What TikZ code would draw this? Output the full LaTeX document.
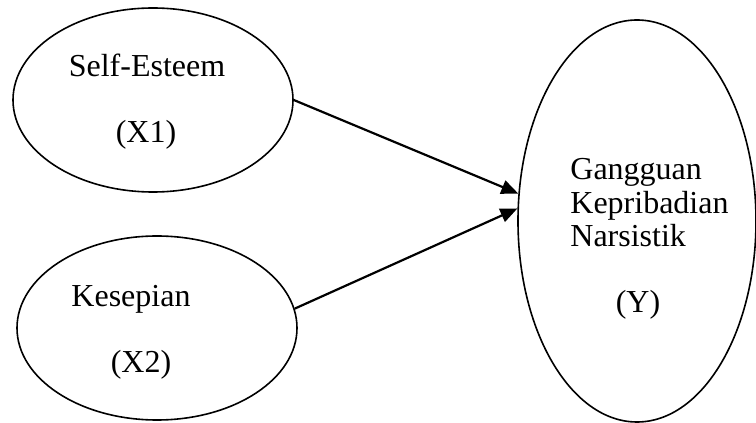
\documentclass[tikz,border=0pt]{standalone}
\usepackage{fontspec}
\setmainfont{Liberation Serif}
\usetikzlibrary{arrows.meta,shapes.geometric}

\begin{document}
\begin{tikzpicture}[
  x=0.5pt, y=0.5pt,
  >={Triangle[length=8.5pt,width=7pt]},
  var/.style   = {
    draw, ellipse,
    line width=0.8pt,
    inner sep=0pt,
    minimum width=140pt,
    minimum height=92pt
  },
  txt/.style   = {font=\fontsize{16}{16.75}\selectfont, inner sep=0pt},
  effect/.style = {->, line width=1.1pt}
]

% ---- canvas ----
\useasboundingbox (0,0) rectangle (756,423);

% ---- latent variables ----
\node[var] (se) at (153,323) {};
\node[var] (ks) at (157,95) {};
\node[var, minimum width=119pt, minimum height=201pt] (gk) at (637,202) {};

% ---- texts ----
\node[txt, anchor=base] (seName) at (147,346) {Self-Esteem};
\node[txt, anchor=base] (seCode) at (146,280) {(X1)};

\node[txt, anchor=base] (ksName) at (131,116) {Kesepian};
\node[txt, anchor=base] (ksCode) at (141,50) {(X2)};

% base = last line here
\node[txt, anchor=base west, align=left] (gkName) at (570,176)
  {Gangguan\\Kepribadian\\Narsistik};
\node[txt, anchor=base] (gkCode) at (638,110) {(Y)};

% ---- paths ----
\draw[effect] (se.east) -- (gk.167);
\draw[effect] (ks.8) -- (gk.174);

\end{tikzpicture}
\end{document}
